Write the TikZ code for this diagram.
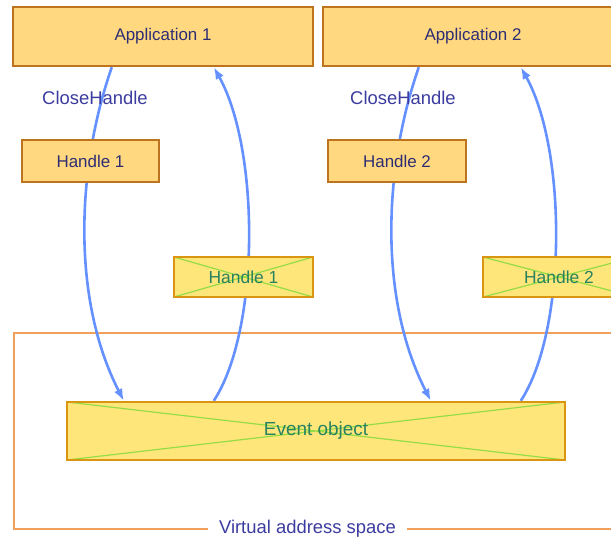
\documentclass[tikz,border=0pt]{standalone}
\usepackage{fontspec}
\setmainfont{Liberation Sans}
\usetikzlibrary{arrows.meta,calc,backgrounds}
\definecolor{appfill}{RGB}{255,216,128}
\definecolor{appdraw}{RGB}{190,116,30}
\definecolor{crossfill}{RGB}{255,230,122}
\definecolor{crossdraw}{RGB}{218,150,16}
\definecolor{crossline}{RGB}{150,220,70}
\definecolor{crosstext}{RGB}{40,130,95}
\definecolor{navytext}{RGB}{45,45,115}
\definecolor{labeltext}{RGB}{60,60,160}
\definecolor{flowblue}{RGB}{100,145,255}
\definecolor{regionline}{RGB}{240,160,90}
\begin{document}
\begin{tikzpicture}[x=1bp,y=-1bp,
  appbox/.style={draw=appdraw,line width=2.4bp,fill=appfill,inner sep=0pt,
    text=navytext,font=\fontsize{17}{20}\selectfont},
  crossbox/.style={draw=crossdraw,line width=2.4bp,fill=crossfill,inner sep=0pt,
    text=crosstext,font=\fontsize{17.5}{20}\selectfont,
    path picture={\draw[crossline,line width=1.2bp]
      (path picture bounding box.north west) -- (path picture bounding box.south east)
      (path picture bounding box.south west) -- (path picture bounding box.north east);}},
  calllabel/.style={text=labeltext,inner sep=0pt,font=\fontsize{18.5}{20}\selectfont},
  flow/.style={draw=flowblue,line width=2.6bp,-{Latex[length=12bp,width=9bp]}},
  region/.style={draw=regionline,line width=2.4bp}]
\useasboundingbox (0,0) rectangle (611,540);
% nodes
\node[appbox,minimum width=300bp,minimum height=59bp] (app1) at (163,36.5) {Application 1};
\node[appbox,minimum width=300bp,minimum height=59bp] (app2) at (473,36.5) {Application 2};
\node[appbox,minimum width=137bp,minimum height=42bp] (h1) at (90.5,161) {Handle 1};
\node[appbox,minimum width=138bp,minimum height=42bp] (h2) at (397,161) {Handle 2};
\node[crossbox,minimum width=139bp,minimum height=40bp] (k1) at (243.5,277) {Handle 1};
\node[crossbox,minimum width=152bp,minimum height=40bp] (k2) at (559,277) {Handle 2};
\node[crossbox,minimum width=498bp,minimum height=58bp,font=\fontsize{19}{22}\selectfont] (event) at (316,431) {Event object};
\node[calllabel] (c1) at (95,97.5) {CloseHandle};
\node[calllabel] (c2) at (403,97.5) {CloseHandle};
\node[text=labeltext,font=\fontsize{18.5}{20}\selectfont,inner xsep=11bp,inner ysep=0pt] (vas) at (307.5,529) {Virtual address space};
\begin{scope}[on background layer]
\fill[white] (0,0) rectangle (611,540);
\draw[region] (vas.west) -| (14,333) -- (625,333);
\draw[region] (vas.east) -- (625,529);
\draw[flow] ($(app1.south west)+(100,0)$) .. controls (76,170) and (72,300) .. ($(event.north west)+(58,0)$);
\draw[flow] ($(event.north west)+(148,0)$) .. controls (260,330) and (260,150) .. ($(app1.south west)+(202,0)$);
\draw[flow] ($(app2.south west)+(97,0)$) .. controls (383,170) and (379,300) .. ($(event.north west)+(365,0)$);
\draw[flow] ($(event.north west)+(455,0)$) .. controls (567,330) and (567,150) .. ($(app2.south west)+(199,0)$);
\end{scope}
\end{tikzpicture}
\end{document}
